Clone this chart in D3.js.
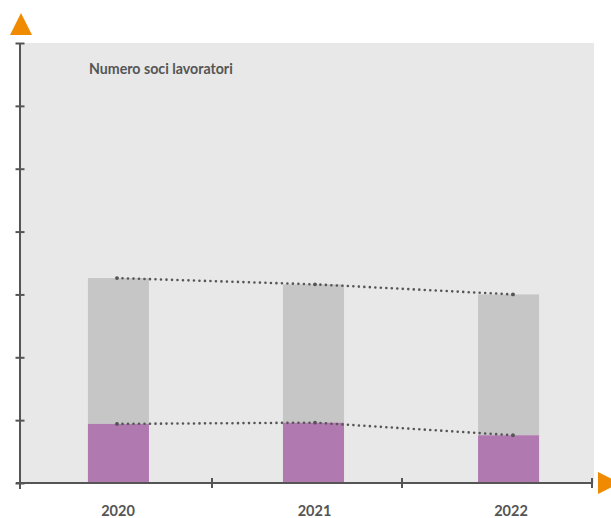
<!DOCTYPE html>
<html>
<head>
<meta charset="utf-8">
<script src="https://cdn.jsdelivr.net/npm/d3@7"></script>
<style>
  html, body { margin: 0; padding: 0; background: #ffffff; }
  svg { display: block; font-family: Lato, "Open Sans", sans-serif; }
</style>
</head>
<body>
<svg id="chart" width="611" height="518"></svg>
<script>
// Soci lavoratori per anno: quota in evidenza (viola) e resto (grigio)
const years = ["2020", "2021", "2022"];
const highlighted = [47, 48, 38];
const others = [116, 110, 112];
const chartTitle = "Numero soci lavoratori";
const yTickCount = 7;   // tacche senza etichetta sull'asse verticale
const yMax = 350;

const totals = years.map((_, i) => highlighted[i] + others[i]);

const svg = d3.select("#chart");

const plot = { left: 20, right: 594, top: 43, bottom: 483 };

const y = d3.scaleLinear().domain([0, yMax]).range([plot.bottom, plot.top]);
const x = d3.scaleBand().domain(years).range([21, 606]).paddingInner(0.687).paddingOuter(0.343);
const xLine = d3.scalePoint().domain(years).range([117, 513]);
const xLabel = d3.scalePoint().domain(years).range([118, 511]);
const xTicks = d3.scaleLinear().domain([0, 3]).range([22, 592]);

// sfondo dell'area del grafico
svg.append("rect")
  .attr("x", plot.left).attr("y", plot.top)
  .attr("width", plot.right - plot.left).attr("height", plot.bottom - plot.top)
  .attr("fill", "#e8e8e8");

svg.append("text")
  .attr("x", 89).attr("y", 74)
  .attr("font-size", 14.2).attr("font-weight", 700)
  .attr("fill", "#555555")
  .text(chartTitle);

// barre impilate
const stack = years.map((yr, i) => ({ year: yr, low: highlighted[i], total: totals[i] }));

svg.selectAll("rect.others").data(stack).join("rect")
  .attr("class", "others")
  .attr("x", d => x(d.year)).attr("width", x.bandwidth())
  .attr("y", d => y(d.total)).attr("height", d => y(d.low) - y(d.total))
  .attr("fill", "#c6c6c6");

svg.selectAll("rect.highlighted").data(stack).join("rect")
  .attr("class", "highlighted")
  .attr("x", d => x(d.year)).attr("width", x.bandwidth())
  .attr("y", d => y(d.low)).attr("height", d => y(0) - y(d.low))
  .attr("fill", "#b07ab1");

// linee di tendenza tratteggiate
const trend = (vals) => d3.line().x((d, i) => xLine(years[i])).y(d => y(d))(vals);
[totals, highlighted].forEach(vals => {
  svg.append("path")
    .attr("d", trend(vals))
    .attr("fill", "none")
    .attr("stroke", "#555555")
    .attr("stroke-width", 2.6)
    .attr("stroke-linecap", "round")
    .attr("stroke-dasharray", "0 5.5");
  svg.selectAll(null).data(vals).join("circle")
    .attr("cx", (d, i) => xLine(years[i])).attr("cy", d => y(d))
    .attr("r", 1.9).attr("fill", "#555555");
});

// asse verticale
const yAxis = d3.axisLeft(y).tickValues(d3.range(0, yMax + 1, yMax / yTickCount))
  .tickSize(0).tickFormat("");
const yG = svg.append("g").attr("transform", `translate(${plot.left},0)`).call(yAxis);
yG.select(".domain").remove();
yG.append("line").attr("x1", 0).attr("x2", 0).attr("y1", plot.top).attr("y2", plot.bottom + 6)
  .attr("stroke", "#555555").attr("stroke-width", 2);
yG.selectAll(".tick").append("line")
  .attr("x1", -4.5).attr("x2", 4.5)
  .attr("stroke", "#555555").attr("stroke-width", 2);

// asse orizzontale
const xAxisG = svg.append("g").attr("transform", `translate(0,${plot.bottom})`);
xAxisG.append("line").attr("x1", 16).attr("x2", xTicks(3)).attr("y1", 0).attr("y2", 0)
  .attr("stroke", "#555555").attr("stroke-width", 2);
xAxisG.selectAll("line.tk").data([1, 2, 3]).join("line")
  .attr("class", "tk")
  .attr("x1", d => xTicks(d)).attr("x2", d => xTicks(d))
  .attr("y1", -5).attr("y2", 5)
  .attr("stroke", "#555555").attr("stroke-width", 2);

svg.selectAll("text.year").data(years).join("text")
  .attr("class", "year")
  .attr("x", d => xLabel(d)).attr("y", 516)
  .attr("text-anchor", "middle")
  .attr("font-size", 14.5).attr("font-weight", 700)
  .attr("fill", "#555555")
  .text(d => d);

// frecce arancioni alle estremità degli assi
svg.append("path").attr("d", d3.line()([[10, 35], [21, 13], [32, 35]]) + "Z").attr("fill", "#f08a00");
svg.append("path").attr("d", d3.line()([[598, 472], [620, 483], [598, 494]]) + "Z").attr("fill", "#f08a00");
</script>
</body>
</html>
